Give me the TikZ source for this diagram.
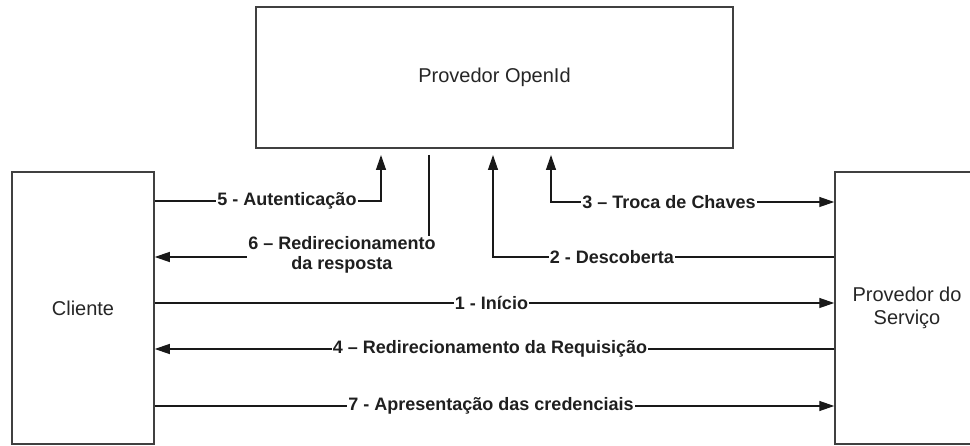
\documentclass[tikz,border=0pt]{standalone}
\usepackage{fontspec}
\setmainfont{Liberation Sans}
\usetikzlibrary{arrows.meta}
\begin{document}
\begin{tikzpicture}[x=1pt,y=-1pt,
  box/.style={draw=black!75, line width=1.5pt, fill=white, inner sep=0pt,
    font=\fontsize{20}{23}\selectfont, text=black!85, align=center},
  conn/.style={draw=black!90, line width=1.3pt},
  tip/.style={-{Triangle[length=15pt,width=10pt]}},
  tips/.style={{Triangle[length=15pt,width=10pt]}-{Triangle[length=15pt,width=10pt]}},
  lbl/.style={fill=white, inner sep=1pt,
    font=\bfseries\fontsize{18}{20}\selectfont, text=black!88, align=center}]
\useasboundingbox (0,0) rectangle (970,446);
\clip (0,0) rectangle (970,446);
\fill[white] (0,0) rectangle (970,446);

% boxes
\node[box, minimum width=477pt, minimum height=141pt] (op) at (494.5,77.5) {Provedor OpenId};
\node[box, minimum width=142pt, minimum height=272pt] (cl) at (83,308) {Cliente};
\node[box, minimum width=144pt, minimum height=272pt] (sp) at (907,308) {Provedor do\\Serviço};

% anchor points below the OpenId box
\coordinate (a5) at (381,155);
\coordinate (a6) at (429,155);
\coordinate (a2) at (493,155);
\coordinate (a3) at (551,155);
% rows
\coordinate (r5) at (0,201);
\coordinate (r3) at (0,202);
\coordinate (r6) at (0,257);
\coordinate (r1) at (0,303);
\coordinate (r4) at (0,349);
\coordinate (r7) at (0,406);

% connectors
\draw[conn,tip] (cl.east |- r5) -| (a5);
\draw[conn,tip] (a6) |- (cl.east |- r6);
\draw[conn,tip] (sp.west |- r6) -| (a2);
\draw[conn,tips] (a3) |- (sp.west |- r3);
\draw[conn,tip] (cl.east |- r1) -- (sp.west |- r1);
\draw[conn,tip] (sp.west |- r4) -- (cl.east |- r4);
\draw[conn,tip] (cl.east |- r7) -- (sp.west |- r7);

% labels
\node[lbl] (l5) at (287,201) {5 - Autenticação};
\node[lbl] (l6) at (342,255) {6 – Redirecionamento\\da resposta};
\node[lbl] (l2) at (612,257) {2 - Descoberta};
\node[lbl] (l3) at (669,202) {3 – Troca de Chaves};
\node[lbl] (l1) at (491.5,303) {1 - Início};
\node[lbl] (l4) at (490,349) {4 – Redirecionamento da Requisição};
\node[lbl] (l7) at (491,406) {7 - Apresentação das credenciais};
\end{tikzpicture}
\end{document}
